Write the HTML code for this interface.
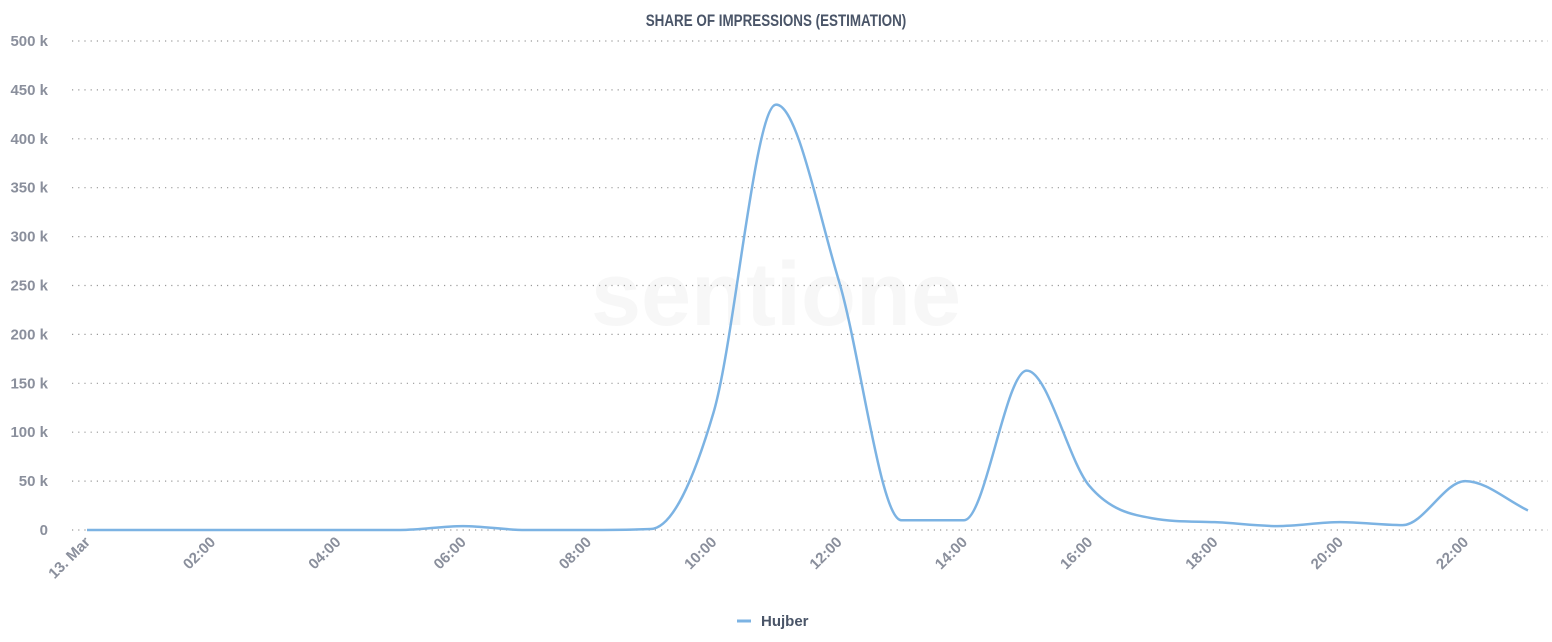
<!DOCTYPE html>
<html><head><meta charset="utf-8"><style>
body{margin:0;background:#fff;width:1552px;height:642px;overflow:hidden}
svg{display:block;font-family:"Liberation Sans",sans-serif}
</style></head><body>
<svg id="s" width="1552" height="642" xmlns="http://www.w3.org/2000/svg">
<text x="776" y="26" text-anchor="middle" font-size="17" font-weight="bold" fill="#4a5568" transform="translate(776,0) scale(0.79,1) translate(-776,0)">SHARE OF IMPRESSIONS (ESTIMATION)</text>
<text x="776" y="325" text-anchor="middle" font-size="90" fill="#f7f7f7" font-weight="bold">sentione</text>
<g id="grid"></g>
<g id="lab" font-size="15" font-weight="bold" fill="#8a8f9c"></g>
<path id="line" fill="none" stroke="#7cb3e3" stroke-width="2.5"/>
<line x1="737" y1="621" x2="751" y2="621" stroke="#7cb3e3" stroke-width="3"/>
<text x="761" y="626" font-size="15" font-weight="bold" fill="#4a5568">Hujber</text>
</svg>
<script>
var g=document.getElementById('grid'),l=document.getElementById('lab'),ns='http://www.w3.org/2000/svg';
function el(t,a,p,txt){var e=document.createElementNS(ns,t);for(var k in a)e.setAttribute(k,a[k]);if(txt)e.textContent=txt;p.appendChild(e);}
for(var i=0;i<=10;i++){var y=530-i*48.9;
el('line',{x1:72,x2:1548,y1:y,y2:y,stroke:'#999','stroke-width':1.2,'stroke-dasharray':'1.2,5'},g);
el('text',{x:48,y:y+5,'text-anchor':'end'},l,i==0?'0':(i*50)+' k');}
var X=function(h){return 87+h*62.65};
var labs=['13. Mar','02:00','04:00','06:00','08:00','10:00','12:00','14:00','16:00','18:00','20:00','22:00'];
labs.forEach(function(t,i){var x=X(i*2)+4,y=543;el('text',{x:x,y:y,'text-anchor':'end',transform:'rotate(-45 '+x+' '+y+')'},l,t);});
var v=[0,0,0,0,0,0,4,0,0,1,120,435,255,10,10,163,45,12,8,4,8,5,50,20];
var p=v.map(function(d,h){return[X(h),530-d*0.978]});
var n=p.length,dx=62.65,dl=[],m=[];
for(var i=0;i<n-1;i++)dl.push((p[i+1][1]-p[i][1])/dx);
m[0]=dl[0];m[n-1]=dl[n-2];
for(var i=1;i<n-1;i++){if(dl[i-1]*dl[i]<=0)m[i]=0;else m[i]=(dl[i-1]+dl[i])/2;}
for(var i=0;i<n-1;i++){if(dl[i]==0){m[i]=0;m[i+1]=0;continue;}var a=m[i]/dl[i],b=m[i+1]/dl[i],s2=a*a+b*b;if(s2>9){var t=3/Math.sqrt(s2);m[i]=t*a*dl[i];m[i+1]=t*b*dl[i];}}
var s='M'+p[0][0]+','+p[0][1];
for(var i=0;i<n-1;i++){var h=dx/3;s+=' C'+(p[i][0]+h)+','+(p[i][1]+m[i]*h)+' '+(p[i+1][0]-h)+','+(p[i+1][1]-m[i+1]*h)+' '+p[i+1][0]+','+p[i+1][1];}
document.getElementById('line').setAttribute('d',s);
</script>
</body></html>
